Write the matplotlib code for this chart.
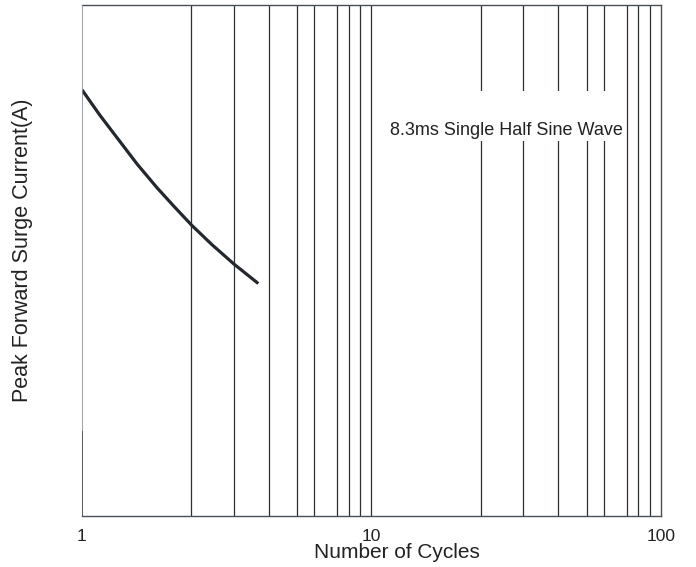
import matplotlib
matplotlib.use("Agg")
import matplotlib.pyplot as plt
from matplotlib.patches import Rectangle

plt.rcParams['font.family'] = ['Liberation Sans', 'DejaVu Sans']

# surge curve (y in % of axis height, no y scale shown)
cycles = [1.0, 1.154, 1.335, 1.549, 1.812, 2.078, 2.393, 2.812, 3.35, 4.064]
surge = [83.4, 78.4, 73.7, 68.9, 64.3, 60.6, 56.9, 53.1, 49.3, 45.5]

# vertical grid lines as drawn on the original (not quite true log positions)
grid_first = [2.38, 3.35, 4.41, 5.54, 6.35, 7.62, 8.34, 9.15, 10.0]
grid_x = grid_first + [g * 10 for g in grid_first[:-1]]

xticks = [1, 10, 100]
xtick_labels = ['1', '10', '100']

note = '8.3ms Single Half Sine Wave'

fig = plt.figure(figsize=(6.96, 5.67), dpi=100)
ax = fig.add_axes([0.1178, 0.0899, 0.8319, 0.9013])

ax.set_xscale('log')
ax.set_xlim(1, 100)
ax.set_ylim(0, 100)

for g in grid_x:
    ax.axvline(g, color='#2b2f36', lw=0.9, zorder=1)

# white box behind the note
ax.add_patch(Rectangle((10.8, 73.4), 74.0 - 10.8, 83.2 - 73.4,
                       facecolor='white', edgecolor='none', zorder=2))
ax.text(29.15, 75.5, note, ha='center', va='center', fontsize=13,
        color='#222222', zorder=3)

ax.plot(cycles, surge, color='#23272e', lw=2.3, solid_capstyle='butt', zorder=4)

ax.set_xticks(xticks)
ax.set_xticklabels(xtick_labels)
ax.xaxis.set_minor_locator(matplotlib.ticker.NullLocator())
ax.set_yticks([])
ax.tick_params(axis='x', length=0, pad=9, labelsize=12.5, colors='#222222')

for side in ['top', 'right', 'bottom']:
    ax.spines[side].set_color('#4a4e55')
    ax.spines[side].set_linewidth(1.0)
ax.spines['left'].set_visible(False)
# left edge: light grey above, darker near the bottom
ax.axvline(1, ymin=0.165, ymax=1, color='#8d9096', lw=1.2, zorder=5)
ax.axvline(1, ymin=0, ymax=0.165, color='#3c4048', lw=1.2, zorder=5)

fig.text(0.570, 0.0247, 'Number of Cycles', ha='center', va='center',
         fontsize=15, color='#222222')
fig.text(0.033, 0.559, 'Peak Forward Surge Current(A)', ha='center',
         va='center', rotation=90, fontsize=15.5, color='#222222')

fig.savefig('out.png', dpi=100)
